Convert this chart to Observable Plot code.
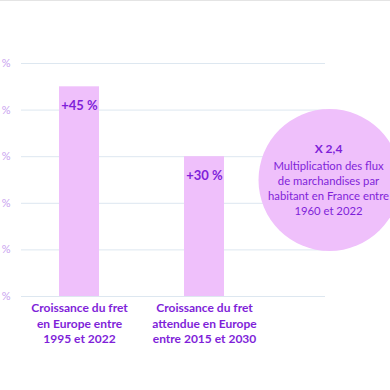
<!DOCTYPE html>
<html>
<head>
<meta charset="utf-8">
<script src="https://cdn.jsdelivr.net/npm/d3@7"></script>
<script src="https://cdn.jsdelivr.net/npm/@observablehq/plot@0.6"></script>
<style>
  html, body { margin: 0; padding: 0; background: #fff; }
  #wrap { position: relative; width: 390px; height: 390px; overflow: hidden; }
  #topline { position: absolute; left: 0; top: 0; width: 390px; height: 1px; background: #e4e4e4; }
</style>
</head>
<body>
<div id="wrap"><div id="topline"></div></div>
<script>
const categories = ["fret_1995_2022", "fret_2015_2030"];
const categoryLabels = [
  "Croissance du fret\nen Europe entre\n1995 et 2022",
  "Croissance du fret\nattendue en Europe\nentre 2015 et 2030"
];
const values = [45, 30];
const valueLabels = ["+45 %", "+30 %"];
const annotationKey = "flux_1960_2022";
const annotationTitle = "X 2,4";
const annotationLines = [
  "Multiplication des flux",
  "de marchandises par",
  "habitant en France entre",
  "1960 et 2022"
];
const yTicks = [0, 10, 20, 30, 40, 50];

const pink = "#efc0fb";
const purple = "#7f1fd9";
const tickColor = "#c9a3ef";
const gridColor = "#dde7f0";
const font = "Lato, 'Noto Sans', sans-serif";

const data = categories.map((c, i) => ({cat: c, value: values[i], label: valueLabels[i], axisLabel: categoryLabels[i]}));

const chart = Plot.plot({
  width: 390,
  height: 390,
  marginTop: 63,
  marginBottom: 94,
  marginLeft: 21,
  marginRight: 65,
  style: {fontFamily: font, background: "transparent"},
  x: {type: "band", domain: [...categories, annotationKey], range: [21, 387], paddingInner: 0.6825, paddingOuter: 0.2937, axis: null},
  y: {domain: [0, 50], axis: null},
  marks: [
    Plot.gridY(yTicks, {stroke: gridColor, strokeOpacity: 1, strokeWidth: 1}),
    Plot.axisY(yTicks, {tickSize: 0, tickPadding: 11, tickFormat: d => `${d} %`, fill: tickColor, fontSize: 11, label: null}),
    Plot.barY(data, {x: "cat", y: "value", fill: pink}),
    Plot.text(data, {x: "cat", y: "value", text: "label", dy: 19, fill: purple, fontWeight: "bold", fontSize: 13}),
    Plot.text(data, {x: "cat", text: "axisLabel", frameAnchor: "bottom", lineAnchor: "top", dy: 5, fill: purple, fontWeight: "bold", fontSize: 12, lineHeight: 1.27}),
    Plot.dot([annotationKey], {x: d => d, r: 71, fill: pink, stroke: null}),
    Plot.text([annotationKey], {x: d => d, dx: -1, text: () => annotationTitle, dy: -30.5, fill: purple, fontWeight: "bold", fontSize: 12}),
    Plot.text([annotationKey], {x: d => d, dx: -1, text: () => annotationLines.join("\n"), dy: 7.6, fill: purple, fontSize: 11.3, lineHeight: 1.35})
  ]
});
document.getElementById("wrap").appendChild(chart);
</script>
</body>
</html>
